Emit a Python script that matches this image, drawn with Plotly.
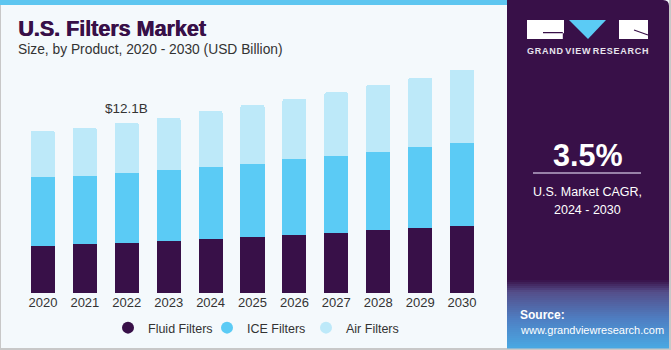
import plotly.graph_objects as go

years = ["2020", "2021", "2022", "2023", "2024", "2025", "2026", "2027", "2028", "2029", "2030"]
fluid = [3.35, 3.49, 3.56, 3.70, 3.84, 3.99, 4.15, 4.27, 4.48, 4.65, 4.79]
ice = [4.91, 4.84, 4.98, 5.05, 5.13, 5.22, 5.39, 5.48, 5.55, 5.72, 5.89]
air = [3.27, 3.42, 3.56, 3.70, 3.99, 4.18, 4.27, 4.53, 4.77, 4.95, 5.20]
series_names = ["Fluid Filters", "ICE Filters", "Air Filters"]
colors = ["#381048", "#5BCBF5", "#BDE9F9"]
label_year = "2022"
label_text = "$12.1B"

W, H = 671, 350
FONT = "Liberation Sans, Arial, sans-serif"
PURPLE = "#381048"
BG = "#F4F9FC"

def px(x):
    return x / W

def py(y):
    return 1 - y / H

fig = go.Figure()
for name, vals, col in zip(series_names, [fluid, ice, air], colors):
    fig.add_trace(go.Bar(x=years, y=vals, name=name, marker=dict(color=col, line=dict(width=0)),
                         showlegend=False, hoverinfo="y"))
for name, col in zip(series_names, colors):
    fig.add_trace(go.Scatter(x=[None], y=[None], mode="markers", name=name,
                             marker=dict(color=col, size=12, symbol="circle")))

totals = [a + b + c for a, b, c in zip(fluid, ice, air)]
idx = years.index(label_year)

shapes = []
shapes.append(dict(type="rect", xref="paper", yref="paper", x0=0, x1=1, y0=0, y1=1,
                   fillcolor="#C8C8C8", line=dict(width=0), layer="below"))
shapes.append(dict(type="rect", xref="paper", yref="paper", x0=px(1), x1=px(669), y0=py(348), y1=py(0),
                   fillcolor=BG, line=dict(width=0), layer="below"))
shapes.append(dict(type="rect", xref="paper", yref="paper", x0=0, x1=px(507), y0=py(5), y1=1,
                   fillcolor="#5EC6F0", line=dict(width=0), layer="below"))
r = 6
x0p, x1p, y0p, y1p = 507, 669, 0, 348
path = (f"M {px(x0p)},{py(y1p)} L {px(x0p)},{py(y0p)} L {px(x1p - r)},{py(y0p)} "
        f"Q {px(x1p)},{py(y0p)} {px(x1p)},{py(y0p + r)} L {px(x1p)},{py(y1p)} Z")
shapes.append(dict(type="path", xref="paper", yref="paper", path=path,
                   fillcolor=PURPLE, line=dict(width=0), layer="below"))

def lerp(c1, c2, t):
    return tuple(int(round(a + (b - a) * t)) for a, b in zip(c1, c2))

stops = [(280, (56, 16, 72)), (292, (84, 78, 138)), (320, (78, 128, 196)), (348, (74, 168, 226))]
n = 34
ys = [280 + i * (348 - 280) / n for i in range(n + 1)]
for i in range(n):
    ym = (ys[i] + ys[i + 1]) / 2
    for (ya, ca), (yb, cb) in zip(stops[:-1], stops[1:]):
        if ya <= ym <= yb:
            c = lerp(ca, cb, (ym - ya) / (yb - ya))
            break
    shapes.append(dict(type="rect", xref="paper", yref="paper", x0=px(507), x1=px(669),
                       y0=py(ys[i + 1] + 0.5), y1=py(ys[i]), fillcolor="rgb(%d,%d,%d)" % c,
                       line=dict(width=0), layer="below"))

shapes.append(dict(type="rect", xref="paper", yref="paper", x0=px(527), x1=px(564), y0=py(39), y1=py(20),
                   fillcolor="white", line=dict(width=0)))
shapes.append(dict(type="path", xref="paper", yref="paper",
                   path=f"M {px(543)},{py(32)} L {px(564)},{py(32)} L {px(564)},{py(33.2)} L {px(543)},{py(33.2)} Z M {px(562.8)},{py(32)} L {px(564)},{py(32)} L {px(564)},{py(39)} L {px(562.8)},{py(39)} Z",
                   fillcolor=PURPLE, line=dict(width=0)))
shapes.append(dict(type="path", xref="paper", yref="paper",
                   path=f"M {px(569)},{py(20)} L {px(606)},{py(20)} L {px(588)},{py(39)} Z",
                   fillcolor="#5BCBF5", line=dict(width=0)))
shapes.append(dict(type="rect", xref="paper", yref="paper", x0=px(619), x1=px(648), y0=py(39), y1=py(20),
                   fillcolor="white", line=dict(width=0)))
shapes.append(dict(type="line", xref="paper", yref="paper", x0=px(634), x1=px(648), y0=py(30), y1=py(35),
                   line=dict(color=PURPLE, width=1.2)))
shapes.append(dict(type="line", xref="paper", yref="paper", x0=px(533), x1=px(641), y0=py(173), y1=py(173),
                   line=dict(color="#B9A9C9", width=1.5)))

annotations = [
    dict(text="<b>U.S. Filters Market</b>", x=px(16), y=py(29), xref="paper", yref="paper",
         xanchor="left", yanchor="middle", showarrow=False,
         font=dict(size=21.5, color=PURPLE, family=FONT, shadow="0.7px 0 0 #381048")),
    dict(text="Size, by Product, 2020 - 2030 (USD Billion)", x=px(16), y=py(49), xref="paper", yref="paper",
         xanchor="left", yanchor="middle", showarrow=False, font=dict(size=13.8, color="#333333", family=FONT)),
    dict(text=label_text, x=idx, y=totals[idx], xref="x", yref="y", yanchor="bottom",
         yshift=5, showarrow=False, font=dict(size=13.5, color="#333333", family=FONT)),
    dict(text="<b>G R A N D   V I E W   R E S E A R C H</b>".replace(" ", "\u200a"), x=px(587.5), y=py(51),
         xref="paper", yref="paper",
         xanchor="center", yanchor="middle", showarrow=False, font=dict(size=9, color="#E8E4EE", family=FONT)),
    dict(text="<b>3.5%</b>", x=px(587.5), y=py(155), xref="paper", yref="paper",
         xanchor="center", yanchor="middle", showarrow=False, font=dict(size=30.5, color="white", family=FONT)),
    dict(text="U.S. Market CAGR,", x=px(587.5), y=py(192), xref="paper", yref="paper",
         xanchor="center", yanchor="middle", showarrow=False, font=dict(size=12.5, color="white", family=FONT)),
    dict(text="2024 - 2030", x=px(587.5), y=py(210), xref="paper", yref="paper",
         xanchor="center", yanchor="middle", showarrow=False, font=dict(size=12.5, color="white", family=FONT)),
    dict(text="<b>Source:</b>", x=px(518), y=py(315), xref="paper", yref="paper",
         xanchor="left", yanchor="middle", showarrow=False, font=dict(size=12, color="white", family=FONT)),
    dict(text="www.grandviewresearch.com", x=px(518), y=py(330), xref="paper", yref="paper",
         xanchor="left", yanchor="middle", showarrow=False, font=dict(size=11, color="white", family=FONT)),
]

ymax = 233 * 12.1 / 170
fig.update_layout(
    width=W, height=H, margin=dict(l=0, r=0, t=0, b=0, autoexpand=False),
    paper_bgcolor="white", plot_bgcolor="rgba(0,0,0,0)",
    barmode="stack", bargap=0.427, barcornerradius=2,
    font=dict(family=FONT, color="#333333"),
    xaxis=dict(type="category", domain=[px(22), px(483)], range=[-0.5, 10.5], showgrid=False, showline=False,
               zeroline=False, automargin=False,
               ticks="", tickfont=dict(size=13, color="#333333"), fixedrange=True),
    yaxis=dict(domain=[py(293), py(60)], range=[0, ymax], visible=False, fixedrange=True, automargin=False),
    legend=dict(orientation="h", traceorder="normal", x=px(108), xanchor="left", y=py(328), yanchor="middle",
                entrywidthmode="pixels", entrywidth=54,
                font=dict(size=12.5, color="#333333"), bgcolor="rgba(0,0,0,0)"),
    shapes=shapes, annotations=annotations,
)
fig.write_html("out.html")
